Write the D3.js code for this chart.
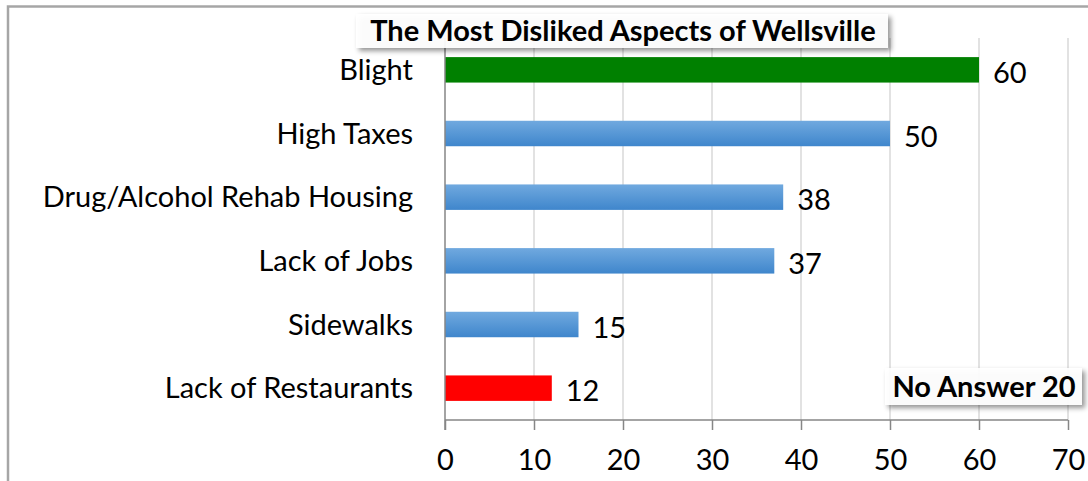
<!DOCTYPE html>
<html><head><meta charset="utf-8">
<script src="https://cdn.jsdelivr.net/npm/d3@7"></script>
<style>
html,body{margin:0;padding:0;background:#fff;}
svg{display:block;}
text{font-family:Lato, "Open Sans", sans-serif;}
</style></head>
<body>
<script>
const categories = ["Blight","High Taxes","Drug/Alcohol Rehab Housing","Lack of Jobs","Sidewalks","Lack of Restaurants"];
const values = [60,50,38,37,15,12];
const barColors = ["green","blue","blue","blue","blue","red"];
const xTicks = [0,10,20,30,40,50,60,70];
const titleText = "The Most Disliked Aspects of Wellsville";
const noteText = "No Answer 20";

const W = 1088, H = 481;
const svg = d3.select("body").append("svg").attr("width",W).attr("height",H);
const defs = svg.append("defs");
const grad = defs.append("linearGradient").attr("id","blueGrad").attr("x1",0).attr("y1",0).attr("x2",0).attr("y2",1);
grad.append("stop").attr("offset","0%").attr("stop-color","#70a9df");
grad.append("stop").attr("offset","100%").attr("stop-color","#3f86cc");
const sh = defs.append("filter").attr("id","shadow").attr("x","-10%").attr("y","-30%").attr("width","130%").attr("height","190%");
sh.append("feDropShadow").attr("dx",3).attr("dy",3).attr("stdDeviation",2.5).attr("flood-color","#000").attr("flood-opacity",0.45);

// outer border
svg.append("rect").attr("x",8).attr("y",6.5).attr("width",W+20).attr("height",H+20)
  .attr("fill","none").attr("stroke","#a6a6a6").attr("stroke-width",2.5);

const pLeft = 445, pRight = 1068, pTop = 38, pBottom = 420;
const x = d3.scaleLinear().domain([0,70]).range([pLeft,pRight]);
const y = d3.scaleBand().domain(categories).range([pTop,pBottom]).paddingInner(0.6).paddingOuter(0.3);

// gridlines
svg.append("g").selectAll("line").data(xTicks.slice(1)).join("line")
  .attr("x1",d=>x(d)).attr("x2",d=>x(d)).attr("y1",pTop).attr("y2",pBottom)
  .attr("stroke","#d9d9d9").attr("stroke-width",1.5);

// bars
const fillFor = c => c==="green" ? "#008000" : c==="red" ? "#ff0000" : "url(#blueGrad)";
svg.append("g").selectAll("rect").data(categories).join("rect")
  .attr("x",x(0)).attr("y",d=>y(d)).attr("width",(d,i)=>x(values[i])-x(0)).attr("height",y.bandwidth())
  .attr("fill",(d,i)=>fillFor(barColors[i]));

// x axis
const xAxis = d3.axisBottom(x).tickValues(xTicks).tickSize(10).tickPadding(19);
const gx = svg.append("g").attr("transform",`translate(0,${pBottom})`).call(xAxis);
gx.select(".domain").attr("stroke","#868686").attr("stroke-width",1.5).attr("d",`M${pLeft},0H${pRight}`);
gx.selectAll(".tick line").attr("stroke","#868686").attr("stroke-width",1.5);
gx.selectAll(".tick text").attr("font-size",29).attr("fill","#000").attr("font-family","Lato, sans-serif");

// y axis line
svg.append("line").attr("x1",pLeft).attr("x2",pLeft).attr("y1",pTop).attr("y2",pBottom+10)
  .attr("stroke","#868686").attr("stroke-width",1.5);

// category labels
svg.append("g").selectAll("text").data(categories).join("text")
  .attr("x",413).attr("y",d=>y(d)+y.bandwidth()/2).attr("dy","0.35em")
  .attr("text-anchor","end").attr("font-size",29).attr("fill","#000").text(d=>d);

// value labels
svg.append("g").selectAll("text").data(categories).join("text")
  .attr("x",(d,i)=>x(values[i])+14).attr("y",d=>y(d)+y.bandwidth()/2+3).attr("dy","0.35em")
  .attr("font-size",29).attr("fill","#000").text((d,i)=>values[i]);

// title box
const tg = svg.append("g");
tg.append("rect").attr("x",356).attr("y",14).attr("width",532).attr("height",34)
  .attr("fill","#fff").attr("fill-opacity",0.92).attr("filter","url(#shadow)");
tg.append("text").attr("x",623).attr("y",31).attr("dy","0.35em").attr("text-anchor","middle")
  .attr("font-size",29).attr("font-weight","bold").attr("fill","#000").text(titleText);

// note box
const ng = svg.append("g");
ng.append("rect").attr("x",885).attr("y",368).attr("width",197).attr("height",37)
  .attr("fill","#fff").attr("fill-opacity",0.92).attr("filter","url(#shadow)");
ng.append("text").attr("x",984).attr("y",387).attr("dy","0.35em").attr("text-anchor","middle")
  .attr("font-size",29).attr("font-weight","bold").attr("fill","#000").text(noteText);
</script>
</body></html>
